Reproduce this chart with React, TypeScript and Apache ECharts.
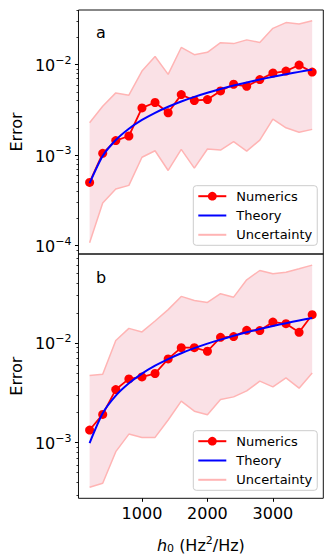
import React, { useEffect, useRef } from "react";
import * as echarts from "echarts";

const hValues = [200, 400, 600, 800, 1000, 1200, 1400, 1600, 1800, 2000, 2200, 2400, 2600, 2800, 3000, 3200, 3400, 3600];

const aNumerics = [5.0e-4, 1.05e-3, 1.45e-3, 1.63e-3, 3.33e-3, 3.82e-3, 2.94e-3, 4.67e-3, 4.02e-3, 4.12e-3, 5.13e-3, 6.08e-3, 5.78e-3, 6.84e-3, 8.09e-3, 8.51e-3, 9.9e-3, 8.29e-3];
const aTheory = [4.9e-4, 9.8e-4, 1.47e-3, 1.96e-3, 2.45e-3, 2.94e-3, 3.43e-3, 3.92e-3, 4.41e-3, 4.9e-3, 5.39e-3, 5.88e-3, 6.37e-3, 6.86e-3, 7.35e-3, 7.84e-3, 8.33e-3, 8.82e-3];
const aUpper = [2.28e-3, 3.48e-3, 4.88e-3, 4.6e-3, 8.5e-3, 1.23e-2, 7.82e-3, 1.55e-2, 1.29e-2, 1.37e-2, 1.75e-2, 1.71e-2, 1.88e-2, 1.76e-2, 2.52e-2, 2.92e-2, 2.82e-2, 3.05e-2];
const aLower = [1.08e-4, 2.97e-4, 4.23e-4, 4.64e-4, 9.5e-4, 1.12e-3, 6.78e-4, 1.16e-3, 7.19e-4, 1.17e-3, 1.14e-3, 1.41e-3, 1.11e-3, 1.47e-3, 2.51e-3, 2.01e-3, 1.79e-3, 1.93e-3];

const bNumerics = [1.34e-3, 1.92e-3, 3.41e-3, 4.36e-3, 4.57e-3, 4.94e-3, 6.92e-3, 8.98e-3, 8.98e-3, 8.26e-3, 1.14e-2, 1.16e-2, 1.34e-2, 1.33e-2, 1.62e-2, 1.56e-2, 1.28e-2, 1.92e-2];
const bTheory = [9.9e-4, 1.97e-3, 2.96e-3, 3.94e-3, 4.93e-3, 5.92e-3, 6.9e-3, 7.89e-3, 8.87e-3, 9.86e-3, 1.08e-2, 1.18e-2, 1.28e-2, 1.38e-2, 1.48e-2, 1.58e-2, 1.68e-2, 1.78e-2];
const bUpper = [4.71e-3, 4.86e-3, 1.06e-2, 1.4e-2, 1.29e-2, 1.66e-2, 2.16e-2, 2.93e-2, 2.67e-2, 2.55e-2, 3.12e-2, 2.88e-2, 4.3e-2, 5.33e-2, 4.94e-2, 5.13e-2, 5.54e-2, 6.03e-2];
const bLower = [3.57e-4, 3.92e-4, 8.13e-4, 1.22e-3, 1.13e-3, 1.13e-3, 1.69e-3, 2.61e-3, 2.07e-3, 1.91e-3, 2.71e-3, 2.88e-3, 3.31e-3, 4.14e-3, 3.63e-3, 4.47e-3, 3.52e-3, 5.01e-3];

const xTicks = [1000, 2000, 3000];
const aMajorTicks = [1e-4, 1e-3, 1e-2];
const bMajorTicks = [1e-3, 1e-2];
const aRange = [8.1e-5, 0.0402];
const bRange = [2.77e-4, 0.078];
const xRange = [30, 3770];

const FONT = "DejaVu Sans";
const RED = "#ff0000";
const BLUE = "#0000ff";
const PINK_LINE = "#ffb4b4";
const PINK_FILL = "#fae1e6";

function minorTicks(lo: number, hi: number): number[] {
  const out: number[] = [];
  for (let e = -6; e <= 0; e++) {
    for (let m = 2; m <= 9; m++) {
      const v = m * Math.pow(10, e);
      if (v >= lo && v <= hi) out.push(v);
    }
  }
  return out;
}

function expLabel(v: number): string {
  const e = Math.round(Math.log10(v));
  const s = e < 0 ? "\u2212" + String(-e) : String(e);
  return "{b|10}{s|" + s + "}";
}

export default function App() {
  const ref = useRef<HTMLDivElement>(null);
  useEffect(() => {
    if (!ref.current) return;
    const chart = echarts.init(ref.current, undefined, { renderer: "svg" });

    const grids = [
      { left: 77, right: 9.7, top: 10, height: 244, show: true, borderColor: "#111", borderWidth: 1, backgroundColor: "transparent" },
      { left: 77, right: 9.7, top: 254, height: 244.3, show: true, borderColor: "#111", borderWidth: 1, backgroundColor: "transparent" },
    ];

    const xAxes = [
      { type: "value", gridIndex: 0, min: xRange[0], max: xRange[1], axisLine: { show: false }, axisTick: { show: false }, axisLabel: { show: false }, splitLine: { show: false } },
      {
        type: "value", gridIndex: 1, min: xRange[0], max: xRange[1],
        axisLine: { show: false },
        axisTick: { show: true, length: 3.5, customValues: xTicks, lineStyle: { color: "#000", width: 1 } },
        axisLabel: { show: true, customValues: xTicks, formatter: (v: number) => String(v), fontSize: 16, fontFamily: FONT, color: "#000", margin: 7 },
        splitLine: { show: false },
        name: "{i|h}{sub|0}{n| (Hz}{sup|2}{n|/Hz)}",
        nameLocation: "middle",
        nameGap: 37,
        nameTextStyle: {
          fontFamily: FONT, color: "#000", fontSize: 16,
          rich: {
            i: { fontFamily: FONT, fontSize: 16, fontStyle: "italic", color: "#000" },
            sub: { fontFamily: FONT, fontSize: 11, color: "#000", padding: [7, 0, 0, 0] },
            n: { fontFamily: FONT, fontSize: 16, color: "#000" },
            sup: { fontFamily: FONT, fontSize: 11, color: "#000", padding: [0, 0, 9, 0] },
          },
        },
      },
    ];

    const majorY = (gridIndex: number, range: number[], ticks: number[]) => ({
      type: "log", gridIndex, position: "left", min: range[0], max: range[1], logBase: 10,
      axisLine: { show: false },
      axisTick: { show: true, length: 3.5, customValues: ticks, lineStyle: { color: "#000", width: 1 } },
      axisLabel: {
        show: true, customValues: ticks, margin: 7, formatter: expLabel,
        rich: {
          b: { fontFamily: FONT, fontSize: 16, color: "#000", padding: [2, 0, 0, 0] },
          s: { fontFamily: FONT, fontSize: 11, color: "#000", padding: [0, 0, 9, 0] },
        },
      },
      splitLine: { show: false },
      minorTick: { show: false },
      name: "Error",
      nameLocation: "middle",
      nameGap: 52,
      nameTextStyle: { fontFamily: FONT, fontSize: 16, color: "#000" },
    });
    const minorY = (gridIndex: number, range: number[]) => ({
      type: "log", gridIndex, position: "left", offset: 0, min: range[0], max: range[1], logBase: 10,
      axisLine: { show: false },
      axisTick: { show: true, length: 2, customValues: minorTicks(range[0], range[1]), lineStyle: { color: "#000", width: 0.8 } },
      axisLabel: { show: false },
      splitLine: { show: false },
    });

    const yAxes = [
      majorY(0, aRange, aMajorTicks),
      minorY(0, aRange),
      majorY(1, bRange, bMajorTicks),
      minorY(1, bRange),
    ];

    const band = (xi: number, yi: number, lo: number[], hi: number[]) => ({
      type: "custom", xAxisIndex: xi, yAxisIndex: yi, z: 1, silent: true,
      data: hValues.map((h, i) => [h, lo[i], hi[i]]),
      encode: { x: 0, y: [1, 2] },
      renderItem: (params: any, api: any) => {
        if (params.dataIndex !== 0) return null;
        const pts: number[][] = [];
        for (let i = 0; i < hValues.length; i++) pts.push(api.coord([hValues[i], hi[i]]));
        for (let i = hValues.length - 1; i >= 0; i--) pts.push(api.coord([hValues[i], lo[i]]));
        return { type: "polygon", shape: { points: pts }, style: { fill: PINK_FILL } };
      },
    });

    const pair = (arr: number[]) => hValues.map((h, i) => [h, arr[i]]);

    const panel = (xi: number, yi: number, num: number[], th: number[], up: number[], lo: number[]) => [
      band(xi, yi, lo, up),
      { type: "line", name: "Uncertainty", xAxisIndex: xi, yAxisIndex: yi, data: pair(up), symbol: "none", color: PINK_LINE, lineStyle: { width: 1.5, color: PINK_LINE }, z: 2 },
      { type: "line", name: "Uncertainty", xAxisIndex: xi, yAxisIndex: yi, data: pair(lo), symbol: "none", color: PINK_LINE, lineStyle: { width: 1.5, color: PINK_LINE }, z: 2 },
      { type: "line", name: "Numerics", xAxisIndex: xi, yAxisIndex: yi, data: pair(num), symbol: "circle", symbolSize: 9, color: RED, itemStyle: { color: RED }, lineStyle: { width: 1.8, color: RED }, z: 3 },
      { type: "line", name: "Theory", xAxisIndex: xi, yAxisIndex: yi, data: pair(th), symbol: "none", smooth: 0.25, color: BLUE, lineStyle: { width: 2, color: BLUE }, z: 4 },
    ];

    const legend = (top: number) => ({
      left: 193.3, top, orient: "vertical", z: 10,
      itemWidth: 28, itemHeight: 11, itemGap: 6.3,
      padding: [4, 5, 4, 4],
      backgroundColor: "rgba(255,255,255,0.8)",
      borderColor: "#cccccc", borderWidth: 1, borderRadius: 3,
      textStyle: { fontFamily: FONT, fontSize: 13, color: "#000", lineHeight: 13, padding: [0, 0, 0, 5] },
      data: [
        { name: "Numerics" },
        { name: "Theory", icon: "path://M0,0H28V2H0Z" },
        { name: "Uncertainty", icon: "path://M0,0H28V2H0Z" },
      ],
      selectedMode: false,
    });

    chart.setOption({
      animation: false,
      backgroundColor: "#ffffff",
      grid: grids,
      xAxis: xAxes,
      yAxis: yAxes,
      legend: [legend(185.7), legend(430.7)],
      series: [
        ...panel(0, 0, aNumerics, aTheory, aUpper, aLower),
        ...panel(1, 2, bNumerics, bTheory, bUpper, bLower),
      ],
      graphic: [
        { type: "text", left: 96, top: 24, style: { text: "a", fontFamily: FONT, fontSize: 16, fill: "#000" } },
        { type: "text", left: 96, top: 269, style: { text: "b", fontFamily: FONT, fontSize: 16, fill: "#000" } },
      ],
    } as any);
    return () => chart.dispose();
  }, []);
  return <div ref={ref} style={{ position: "fixed", left: 0, top: 0, width: 333, height: 556 }} />;
}
